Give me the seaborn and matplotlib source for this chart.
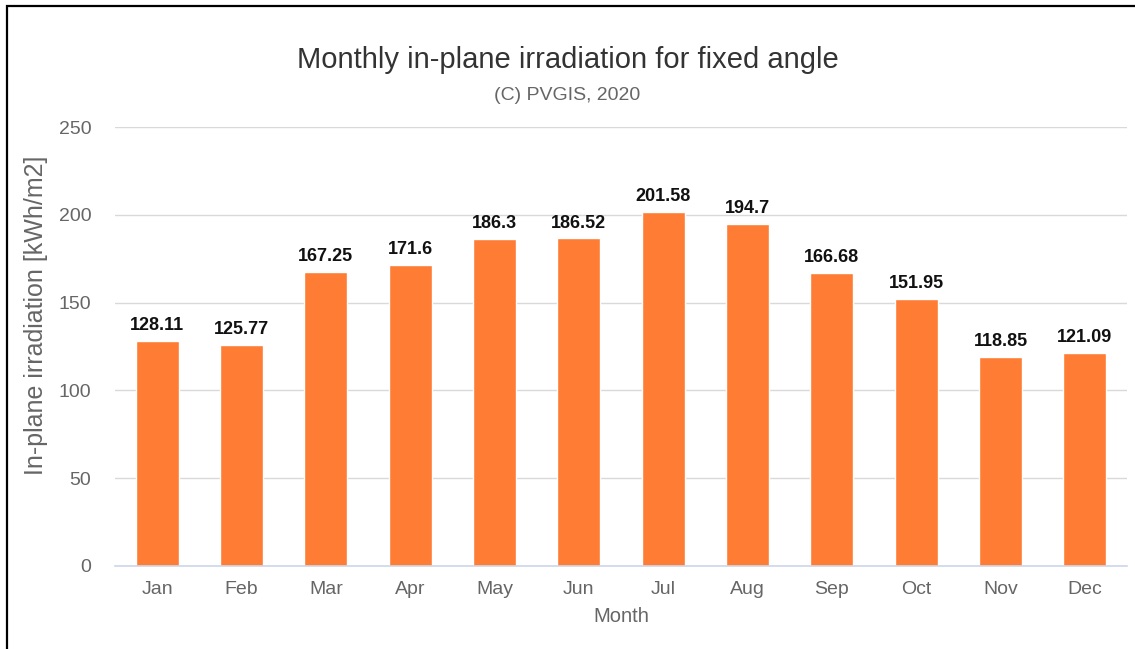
import matplotlib
matplotlib.use("Agg")
import matplotlib.pyplot as plt
import matplotlib.patches as patches
import pandas as pd
import seaborn as sns

sns.set_theme(style="white")
plt.rcParams['font.family'] = ['Liberation Sans', 'DejaVu Sans']

# Data
months = ["Jan", "Feb", "Mar", "Apr", "May", "Jun", "Jul", "Aug", "Sep", "Oct", "Nov", "Dec"]
irradiation = [128.11, 125.77, 167.25, 171.6, 186.3, 186.52, 201.58, 194.7, 166.68, 151.95, 118.85, 121.09]

dt = pd.DataFrame({"Month": months, "Irradiation": irradiation})

fig = plt.figure(figsize=(11.35, 6.49), dpi=100)
ax = fig.add_axes([115 / 1135, 1 - 566 / 649, (1127 - 115) / 1135, (566 - 127) / 649])

sns.barplot(data=dt, x="Month", y="Irradiation", color="#fe7c33", saturation=1, width=0.51, ax=ax)

# value labels on top of bars
ax.bar_label(ax.containers[0], labels=[str(v) for v in irradiation], padding=5,
             fontsize=13, fontweight="bold", color="#111111")

ax.set_ylim(0, 250)
ax.set_yticks([0, 50, 100, 150, 200, 250])
ax.set_xlim(-0.5, 11.5)
ax.grid(axis="y", color="#d9d9d9", linewidth=1)
ax.set_axisbelow(True)

for s in ["top", "right", "left"]:
    ax.spines[s].set_visible(False)
ax.spines["bottom"].set_color("#ccd6eb")
ax.spines["bottom"].set_linewidth(1.2)

# category boundary ticks
ax.set_xticks([i - 0.5 for i in range(13)], minor=True)
ax.tick_params(axis="x", which="minor", length=11, width=1.2, color="#ccd6eb", direction="out")
ax.tick_params(axis="x", which="major", length=0, pad=11, labelsize=14, labelcolor="#666666")
ax.tick_params(axis="y", length=0, pad=17, labelsize=14, labelcolor="#666666")

ax.set_xlabel("Month", fontsize=14.5, color="#666666", labelpad=6)
ax.set_ylabel("In-plane irradiation [kWh/m2]", fontsize=18, color="#666666")
ax.yaxis.set_label_coords(-0.066, 0.572)

fig.text(0.5, 1 - 60 / 649, "Monthly in-plane irradiation for fixed angle", ha="center", va="center",
         fontsize=21, color="#333333")
fig.text(0.5, 1 - 96 / 649, "(C) PVGIS, 2020", ha="center", va="center", fontsize=14, color="#666666")

# outer frame (left and top visible)
frame = patches.Rectangle((6.5 / 1135, -0.2), 1.2, 1.2 - 6.0 / 649, transform=fig.transFigure,
                          fill=False, edgecolor="black", linewidth=1.6)
fig.patches.append(frame)

plt.savefig("out.png", dpi=100)
